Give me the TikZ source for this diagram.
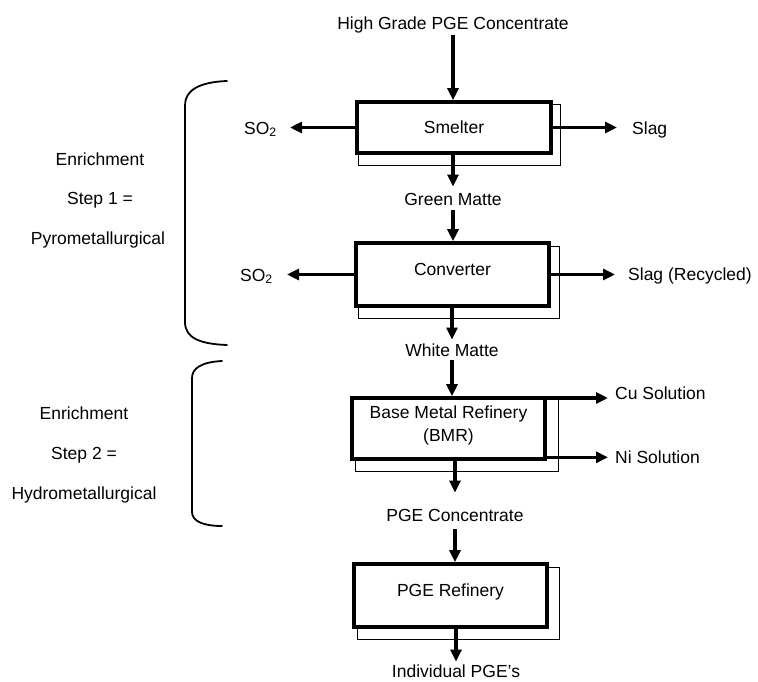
\documentclass[tikz,border=0pt]{standalone}
\usepackage{fontspec}
\setmainfont{Liberation Sans}
\usetikzlibrary{arrows.meta,backgrounds}
\begin{document}
\begin{tikzpicture}[x=1pt,y=-1pt,
  font=\fontsize{17.5}{23}\selectfont,
  every node/.style={inner sep=0pt},
  lbl/.style={text height=12.5pt, text depth=0pt},
  proc/.style={draw, line width=3.6pt, fill=white, align=center, text height=12.5pt},
  shadowbox/.style={draw, line width=1pt},
  arr/.style={line width=3.2pt, -{Triangle[length=12pt,width=11pt]}},
  brace/.style={line width=1.8pt, line cap=round}
]
\useasboundingbox (0,0) rectangle (758,682);

% process boxes
\node[proc, minimum width=194pt, minimum height=51pt, text depth=0pt] (smelter) at (454,127.5) {Smelter};
\node[proc, minimum width=193pt, minimum height=63pt, text depth=11pt] (converter) at (452.5,274.5) {Converter};
\node[proc, minimum width=193pt, minimum height=61pt, text height=35.5pt, text depth=9.9pt] (bmr) at (448.5,428.5) {Base Metal Refinery\\(BMR)};
\node[proc, minimum width=193pt, minimum height=63pt, text depth=11pt] (pge) at (450.5,595.5) {PGE Refinery};

% shadows
\begin{pgfonlayer}{background}
\draw[shadowbox] ([xshift=3pt,yshift=-4pt]smelter.north west) rectangle ([xshift=8pt,yshift=-11pt]smelter.south east);
\draw[shadowbox] ([xshift=4pt,yshift=-5pt]converter.north west) rectangle ([xshift=9pt,yshift=-11pt]converter.south east);
\draw[shadowbox] ([xshift=5pt,yshift=-2pt]bmr.north west) rectangle ([xshift=12pt,yshift=-11pt]bmr.south east);
\draw[shadowbox] ([xshift=5pt,yshift=-5pt]pge.north west) rectangle ([xshift=11pt,yshift=-11pt]pge.south east);
\end{pgfonlayer}

% flow labels
\node[lbl] (hg) at (453,23) {High Grade PGE Concentrate};
\node[lbl] (green) at (453,199) {Green Matte};
\node[lbl] (white) at (452,350) {White Matte};
\node[lbl] (pgec) at (455,515) {PGE Concentrate};
\node[lbl] (indiv) at (456,671) {Individual PGE’s};

% side labels
\node[lbl, anchor=east] (so2a) at (277,128) {SO\textsubscript{2}};
\node[lbl, anchor=west] (slag) at (632,128) {Slag};
\node[lbl, anchor=east] (so2b) at (273,275) {SO\textsubscript{2}};
\node[lbl, anchor=west] (slagr) at (628,274) {Slag (Recycled)};
\node[lbl, anchor=west] (cu) at (615,393) {Cu Solution};
\node[lbl, anchor=west] (ni) at (615,457) {Ni Solution};

% enrichment texts
\node[lbl] (e1a) at (100,159) {Enrichment};
\node[lbl] (e1b) at (100,198) {Step 1 =};
\node[lbl] (e1c) at (98,238) {Pyrometallurgical};
\node[lbl] (e2a) at (84,413) {Enrichment};
\node[lbl] (e2b) at (84,453) {Step 2 =};
\node[lbl] (e2c) at (84,493) {Hydrometallurgical};

% main vertical arrows
\draw[arr, shorten <=6pt] (hg.south) -- (hg.south |- smelter.north);
\draw[arr, shorten >=6pt] (green.north |- smelter.south) -- (green.north);
\draw[arr, shorten <=5pt] (green.south) -- (green.south |- converter.north);
\draw[arr, shorten >=4pt] (white.north |- converter.south) -- (white.north);
\draw[arr, shorten <=4pt] (white.south) -- (white.south |- bmr.north);
\draw[arr, shorten >=16pt] (pgec.north |- bmr.south) -- (pgec.north);
\draw[arr, shorten <=8pt] (pgec.south) -- (pgec.south |- pge.north);
\draw[arr, shorten >=3pt] (indiv.north |- pge.south) -- (indiv.north);

% side arrows
\draw[arr, shorten >=13pt] (smelter.west) -- (so2a.east |- smelter.west);
\draw[arr, shorten >=15pt] (smelter.east) -- (slag.west |- smelter.east);
\draw[arr, shorten >=14pt] (converter.west) -- (so2b.east |- converter.west);
\draw[arr, shorten >=13pt] (converter.east) -- (slagr.west |- converter.east);
\coordinate (cuout) at ([yshift=-1.8pt]bmr.north east);
\coordinate (niout) at ([yshift=3.5pt]bmr.south east);
\draw[arr, shorten >=7pt] (cuout) -- (cu.west |- cuout);
\draw[arr, shorten >=7pt] (niout) -- (ni.west |- niout);

% braces
\draw[brace] (227,81) .. controls (200,82) and (185,90) .. (185,105) -- (185,322) .. controls (185,338) and (200,344) .. (227,345);
\draw[brace] (222,361) .. controls (202,362) and (192,368) .. (192,378) -- (192,512) .. controls (192,522) and (205,526) .. (222,526);
\end{tikzpicture}
\end{document}
